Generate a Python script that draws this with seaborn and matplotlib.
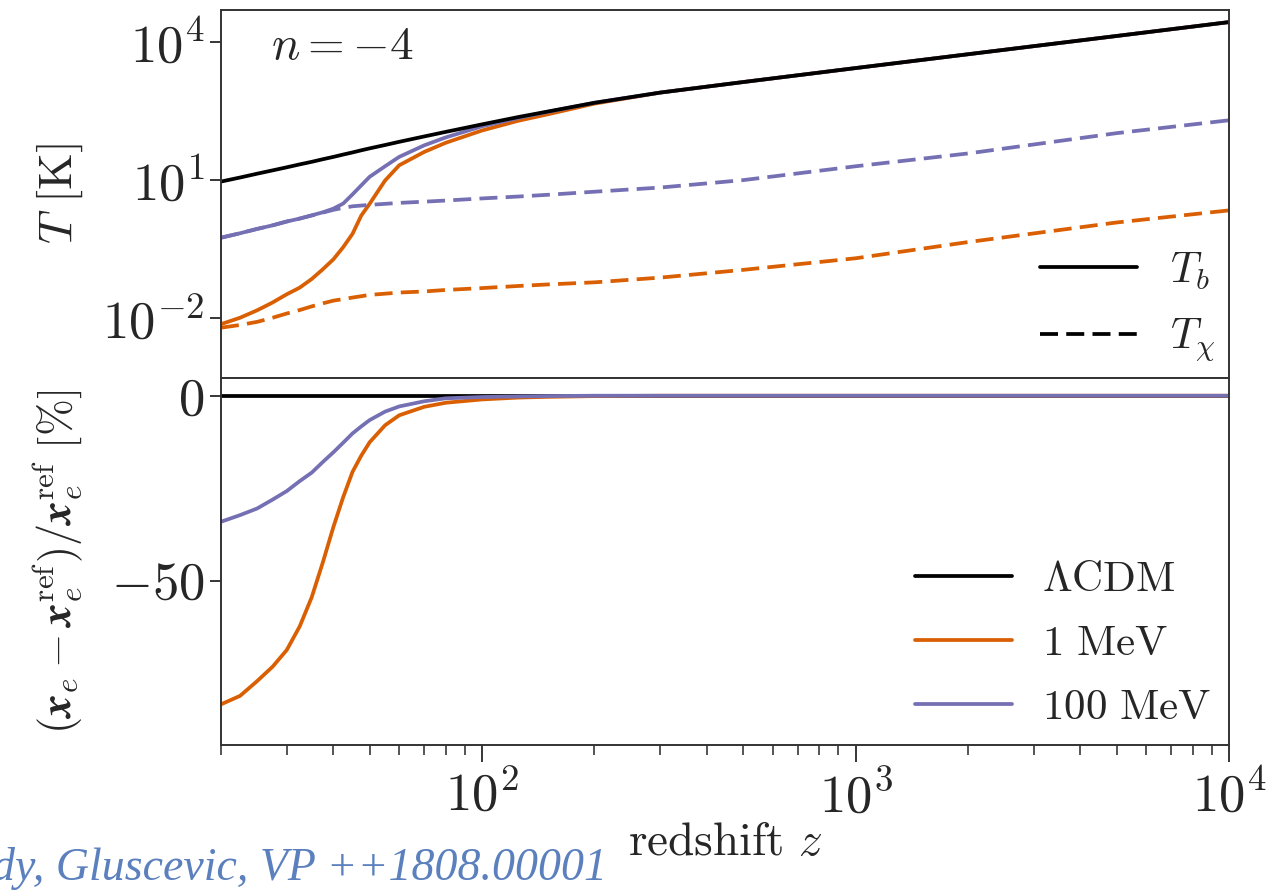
import numpy as np
import matplotlib
matplotlib.use("Agg")
import matplotlib.pyplot as plt
from matplotlib.lines import Line2D
from matplotlib.ticker import LogLocator, NullFormatter, FixedLocator
import seaborn as sns

#-------------------
# data
#-------------------

# redshift grid
z = [20, 22.5, 25, 27.5, 30, 32.5, 35, 37.5, 40, 42.5, 45, 47.5, 50, 55, 60, 70, 80,
     100, 125, 150, 200, 300, 500, 1000, 2000, 5000, 10000]

# temperatures [K]
T_b_lcdm = [9.3, 11.4, 13.8, 16.3, 19, 22, 25, 28.5, 32, 36, 40, 44.5, 49, 58, 68, 89, 112,
            163, 235, 310, 480, 800, 1355, 2727, 5450, 13600, 27250]
T_b_1MeV = [0.0074, 0.0102, 0.0148, 0.0219, 0.033, 0.046, 0.071, 0.116, 0.19, 0.35, 0.68, 1.7, 3.05, 9.8, 21, 41, 65,
            120, 195, 270, 460, 800, 1355, 2727, 5450, 13600, 27250]
T_chi_1MeV = [0.0062, 0.0071, 0.0083, 0.0102, 0.0126, 0.015, 0.018, 0.021, 0.024, 0.026, 0.028, 0.030, 0.032, 0.034, 0.036, 0.038, 0.041,
              0.045, 0.050, 0.054, 0.060, 0.076, 0.112, 0.20, 0.45, 1.2, 2.2]
T_b_100MeV = [0.56, 0.70, 0.87, 1.04, 1.26, 1.46, 1.72, 2.0, 2.4, 3.1, 4.9, 7.7, 11.8, 20, 32, 57, 85,
              148, 225, 305, 480, 800, 1355, 2727, 5450, 13600, 27250]
T_chi_100MeV = [0.56, 0.70, 0.87, 1.04, 1.26, 1.46, 1.70, 1.97, 2.26, 2.5, 2.7, 2.8, 2.9, 3.05, 3.2, 3.4, 3.6,
                4.0, 4.4, 4.8, 5.6, 6.9, 10, 20, 38, 105, 200]

# ionization fraction residuals [%]
dxe_lcdm = [0] * len(z)
dxe_1MeV = [-83.5, -81.2, -77.2, -73.3, -68.8, -62.4, -54.5, -45.0, -35.5, -27.4, -20.6, -16.2, -12.6, -8.0, -5.3, -3.0, -1.9,
            -1.0, -0.5, -0.3, -0.1, 0, 0, 0, 0, 0, 0]
dxe_100MeV = [-34.1, -32.3, -30.5, -28.1, -25.8, -23.1, -20.8, -17.9, -15.3, -12.7, -10.2, -8.3, -6.6, -4.3, -2.9, -1.5, -0.7,
              -0.35, -0.2, -0.1, 0, 0, 0, 0, 0, 0, 0]

models = ['$\\Lambda\\mathrm{CDM}$', '$1\\ \\mathrm{MeV}$', '$100\\ \\mathrm{MeV}$']
colors = ['black', '#d95f02', '#7570b3']

#-------------------
# style
#-------------------

sns.set_style("ticks")
plt.rcParams['mathtext.fontset'] = 'cm'
plt.rcParams['font.family'] = 'serif'
plt.rcParams['font.serif'] = ['cmr10', 'DejaVu Serif']
plt.rcParams['axes.formatter.use_mathtext'] = True
plt.rcParams['axes.unicode_minus'] = True
plt.rcParams['axes.edgecolor'] = '#333333'
plt.rcParams['axes.linewidth'] = 1.4
fs = 34
fs_tick = 38
fs_leg = 31

fig = plt.figure(figsize=(12.78, 8.90), dpi=100)
ax1 = fig.add_axes([0.1729, 0.5753, 0.7888, 0.4135])
ax2 = fig.add_axes([0.1729, 0.1629, 0.7888, 0.4124], sharex=ax1)

lw = 2.7
dash = (4.8, 2.2)

# top panel: temperatures
sns.lineplot(x=z, y=T_b_1MeV, ax=ax1, color=colors[1], lw=lw)
sns.lineplot(x=z, y=T_chi_1MeV, ax=ax1, color=colors[1], lw=lw)
ax1.lines[-1].set_dashes(dash)
sns.lineplot(x=z, y=T_chi_100MeV, ax=ax1, color=colors[2], lw=lw)
ax1.lines[-1].set_dashes(dash)
sns.lineplot(x=z, y=T_b_100MeV, ax=ax1, color=colors[2], lw=lw)
sns.lineplot(x=z, y=T_b_lcdm, ax=ax1, color=colors[0], lw=lw)

# bottom panel: x_e residuals
sns.lineplot(x=z, y=dxe_lcdm, ax=ax2, color=colors[0], lw=lw)
sns.lineplot(x=z, y=dxe_1MeV, ax=ax2, color=colors[1], lw=lw)
sns.lineplot(x=z, y=dxe_100MeV, ax=ax2, color=colors[2], lw=lw)

ax1.set_xscale('log')
ax1.set_yscale('log')
ax1.set_xlim(20, 1e4)
ax1.set_ylim(5e-4, 5e4)
ax1.yaxis.set_major_locator(FixedLocator([1e-2, 1e1, 1e4]))
ax1.yaxis.set_minor_locator(FixedLocator([]))
ax1.tick_params(axis='x', which='both', bottom=False, labelbottom=False)
ax1.tick_params(axis='y', labelsize=fs_tick, length=8, width=1.3, direction='out', pad=4)
ax1.set_ylabel('$T\\ [\\mathrm{K}]$', fontsize=fs)
ax1.text(0.05, 0.9, '$n = -4$', transform=ax1.transAxes, fontsize=fs, va='center')

ax2.set_ylim(-94.5, 4.8)
ax2.yaxis.set_major_locator(FixedLocator([-50, 0]))
ax2.xaxis.set_major_locator(LogLocator(base=10, numticks=10))
ax2.xaxis.set_minor_locator(LogLocator(base=10, subs=np.arange(2, 10), numticks=20))
ax2.xaxis.set_minor_formatter(NullFormatter())
ax2.tick_params(axis='x', which='major', labelsize=fs_tick, length=12, width=1.3, direction='out', pad=6)
ax2.tick_params(axis='x', which='minor', length=7, width=1.1, direction='out')
ax2.tick_params(axis='y', labelsize=fs_tick, length=8, width=1.3, direction='out', pad=4)
ax2.set_xlabel('$\\mathrm{redshift}\\ z$', fontsize=fs, labelpad=0)
ax2.set_ylabel('$(\\mathbfit{x}_e - \\mathbfit{x}_e^{\\mathrm{ref}})/\\mathbfit{x}_e^{\\mathrm{ref}}\\ [\\%]$',
               fontsize=fs * 0.94)
ax1.yaxis.set_label_coords(-0.135, 0.5)
ax2.yaxis.set_label_coords(-0.135, 0.5)

# legends
h_style = [Line2D([], [], color='black', lw=lw),
           Line2D([], [], color='black', lw=lw, dashes=dash)]
ax1.legend(h_style, ['$T_b$', '$T_\\chi$'], loc='lower right', frameon=False,
           fontsize=fs_leg, handlelength=2.25, handletextpad=0.77,
           labelspacing=0.58, borderpad=0.2, borderaxespad=0.12)
h_model = [Line2D([], [], color=c, lw=lw) for c in colors]
ax2.legend(h_model, models, loc='lower right', frameon=False,
           fontsize=fs_leg, handlelength=2.25, handletextpad=0.7,
           labelspacing=0.6, borderpad=0.2, borderaxespad=0.22)

# caption from the slide
fig.text(607 / 1278, 1 - 880 / 890, 'Boddy, Gluscevic, VP ++1808.00001', ha='right', va='baseline',
         fontsize=33, style='italic', family='Liberation Serif', color='#5b80bd')

fig.savefig('out.png', dpi=100)
